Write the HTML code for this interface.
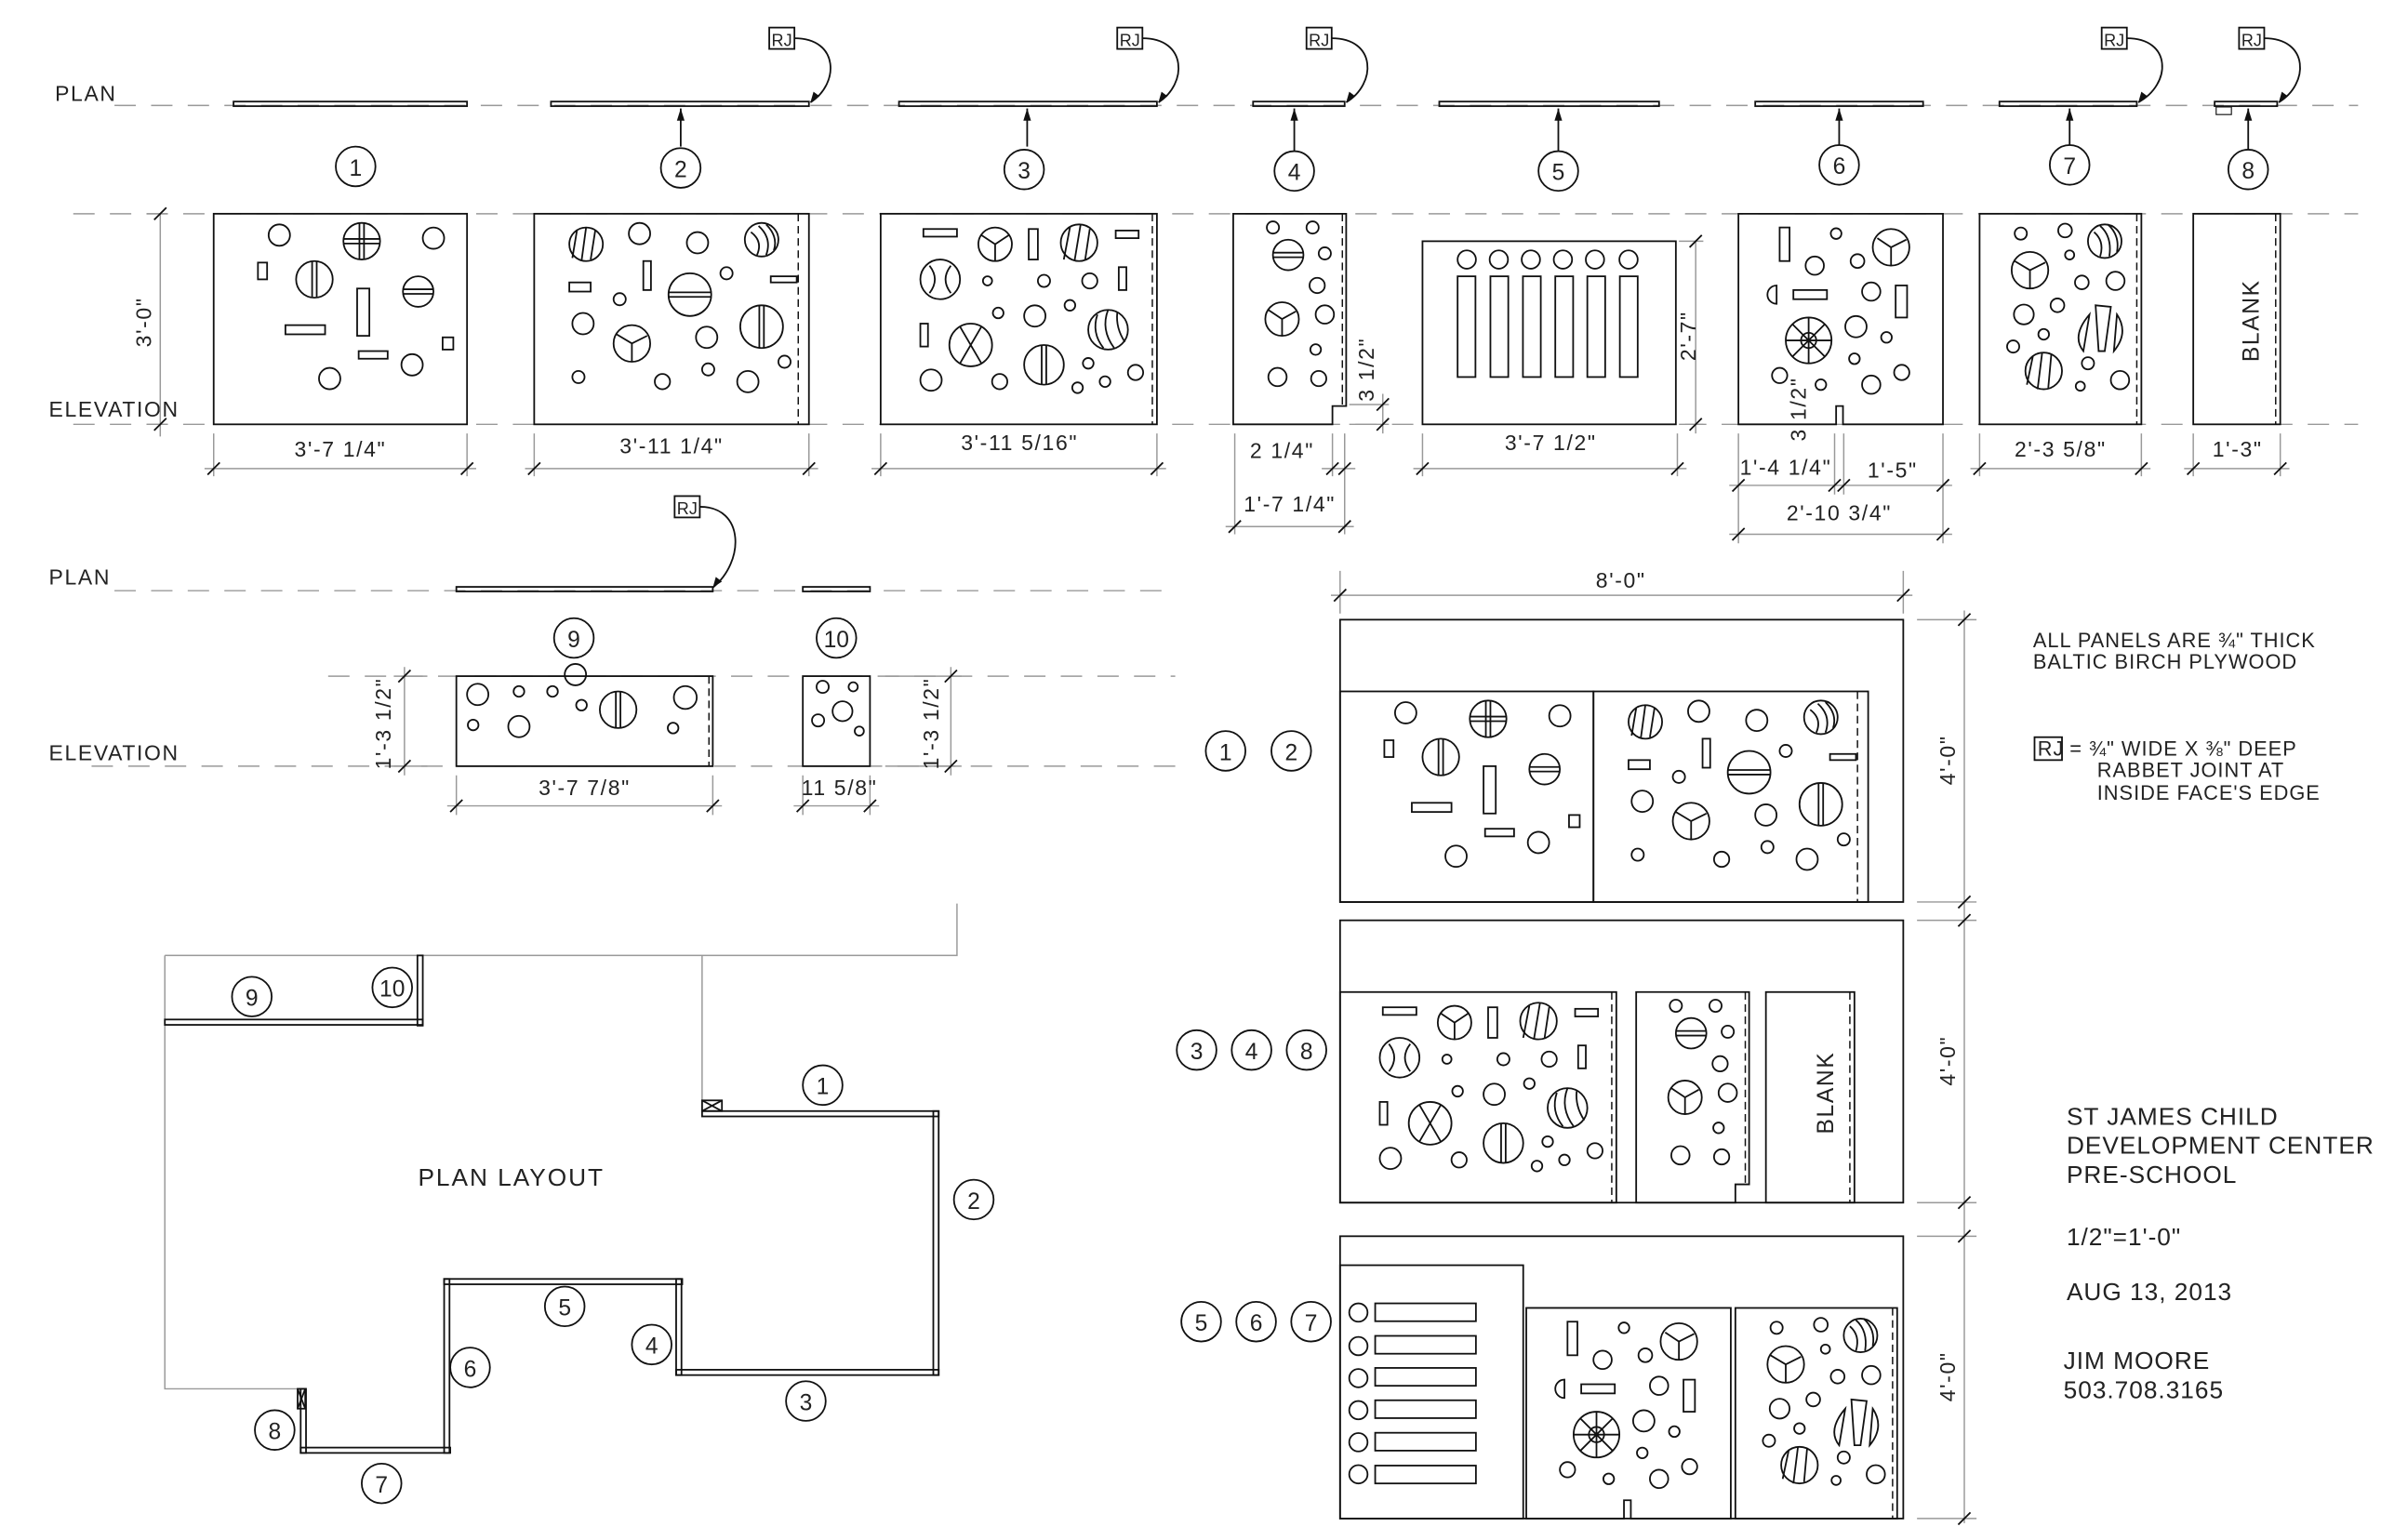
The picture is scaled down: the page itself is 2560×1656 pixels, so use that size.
<!DOCTYPE html>
<html><head><meta charset="utf-8"><style>
html,body{margin:0;padding:0;background:#fff;}
svg{display:block;}
text{font-family:"Liberation Sans",sans-serif;fill:#222;}
.k{fill:none;stroke:#111;stroke-width:1.1;}
.g{fill:none;stroke:#999;stroke-width:0.9;}
.d{fill:none;stroke:#999;stroke-width:0.9;stroke-dasharray:14 10;}
.dp{fill:none;stroke:#111;stroke-width:0.9;stroke-dasharray:5 3;}
.t{font-size:14px;letter-spacing:1px;}
.c{font-size:15px;text-anchor:middle;}
.m{text-anchor:middle;}
.n{font-size:13.3px;letter-spacing:0.6px;}
</style></head><body>
<svg width="2560" height="1656" viewBox="0 0 1560 1009" xmlns="http://www.w3.org/2000/svg">
<defs>
<g id="p1" class="k">
<rect x="0" y="0" width="166" height="138"/>
<circle cx="43" cy="14" r="7"/><circle cx="144" cy="16" r="7"/><circle cx="130" cy="99" r="7"/><circle cx="76" cy="108" r="7"/>
<circle cx="97" cy="18" r="12"/><path d="M85 16.5H109M85 19.5H109M95.5 6V30M98.5 6V30"/>
<circle cx="66" cy="43" r="12"/><path d="M64.5 31.5V54.5M67.5 31.5V54.5"/>
<circle cx="134" cy="51" r="10"/><path d="M124 49.5H144M124 52.5H144"/>
<rect x="29" y="32" width="6" height="11"/><rect x="94" y="49" width="8" height="31"/><rect x="47" y="73" width="26" height="6"/><rect x="150" y="81" width="7" height="8"/><rect x="95" y="90" width="19" height="5"/>
</g>
<g id="p2" class="k">
<rect x="0" y="0" width="180" height="138"/><path class="dp" d="M173 0V138"/>
<circle cx="34" cy="20" r="11"/><path d="M28 11L25 29M34 9L31 31M40 11L37 30"/>
<circle cx="69" cy="13" r="7"/><circle cx="107" cy="19" r="7"/>
<circle cx="149" cy="17" r="11"/><path d="M142 12Q150 18 146 27M147 8Q156 16 152 27M152 7Q160 15 157 24"/>
<circle cx="126" cy="39" r="4"/><rect x="71.5" y="31" width="5" height="19"/><rect x="23" y="45" width="14" height="6"/><circle cx="56" cy="56" r="4"/>
<circle cx="102" cy="53" r="14"/><path d="M88 51.5H116M88 54.5H116"/>
<rect x="155" y="41" width="17" height="4"/><circle cx="32" cy="72" r="7"/>
<circle cx="64" cy="85" r="12"/><path d="M64 85L54 79M64 85L74 80M64 85L64 97"/>
<circle cx="113" cy="81" r="7"/>
<circle cx="149" cy="74" r="14"/><path d="M147.5 60V88M150.5 60V88"/>
<circle cx="164" cy="97" r="4"/><circle cx="29" cy="107" r="4"/><circle cx="84" cy="110" r="5"/><circle cx="114" cy="102" r="4"/><circle cx="140" cy="110" r="7"/>
</g>
<g id="p3" class="k">
<rect x="0" y="0" width="181" height="138"/><path class="dp" d="M178 0V138"/>
<rect x="28" y="10" width="22" height="5"/>
<circle cx="75" cy="20" r="11"/><path d="M75 20L66 14M75 20L84 14M75 20V31"/>
<rect x="97" y="10" width="6" height="20"/>
<circle cx="130" cy="19" r="12"/><path d="M124 9L120 30M131 7L127 31M137 10L134 30"/>
<rect x="154" y="11" width="15" height="5"/>
<circle cx="39" cy="43" r="13"/><path d="M32 34Q39 43 32 52M46 34Q39 43 46 52"/>
<circle cx="70" cy="44" r="3"/><circle cx="107" cy="44" r="4"/><circle cx="137" cy="44" r="5"/>
<rect x="156" y="35" width="5" height="15"/>
<circle cx="77" cy="65" r="3.5"/><circle cx="101" cy="67" r="7"/><circle cx="124" cy="60" r="3.5"/>
<circle cx="149" cy="76" r="13"/><path d="M142 66Q138 78 146 88M149 63Q144 76 153 88M155 65Q154 75 160 84"/>
<rect x="26" y="72" width="5" height="15"/>
<circle cx="59" cy="86" r="14"/><path d="M52 74L66 98M66 74L52 98"/>
<circle cx="107" cy="99" r="13"/><path d="M105.5 86V112M108.5 86V112"/>
<circle cx="33" cy="109" r="7"/><circle cx="78" cy="110" r="5"/><circle cx="136" cy="98" r="3.5"/><circle cx="129" cy="114" r="3.5"/><circle cx="147" cy="110" r="3.5"/><circle cx="167" cy="104" r="5"/>
</g>
<g id="p4" class="k">
<path d="M0 0H74V126H65V138H0Z"/><path class="dp" d="M71.5 0V126"/>
<circle cx="26" cy="9" r="4"/><circle cx="52" cy="9" r="4"/>
<circle cx="36" cy="27" r="10"/><path d="M26 25.5H46M26 28.5H46"/>
<circle cx="60" cy="26" r="4"/><circle cx="55" cy="47" r="5"/>
<circle cx="32" cy="69" r="11"/><path d="M32 69L23 63M32 69L41 64M32 69V80"/>
<circle cx="60" cy="66" r="6"/><circle cx="54" cy="89" r="3.5"/><circle cx="29" cy="107" r="6"/><circle cx="56" cy="108" r="5"/>
</g>
<g id="p6" class="k">
<path d="M0 0H134V138H68.5V126H64V138H0Z"/>
<rect x="27" y="9" width="6.5" height="22"/><circle cx="64" cy="13" r="3.5"/>
<circle cx="100" cy="22" r="12"/><path d="M100 22L91 16M100 22L110 17M100 22V34"/>
<circle cx="50" cy="34" r="6"/><circle cx="78" cy="31" r="4.5"/>
<path d="M25 47A6 6 0 0 0 25 59Z"/>
<rect x="36" y="50" width="22" height="6"/><circle cx="87" cy="51" r="6"/><rect x="103" y="47" width="7.5" height="21"/>
<circle cx="46" cy="83" r="15"/><path d="M46 68V98M31 83H61M35.4 72.4L56.6 93.6M56.6 72.4L35.4 93.6"/><circle cx="46" cy="83" r="5"/>
<circle cx="77" cy="74" r="7"/><circle cx="97" cy="81" r="3.5"/><circle cx="76" cy="95" r="3.5"/><circle cx="27" cy="106" r="5"/><circle cx="54" cy="112" r="3.5"/><circle cx="87" cy="112" r="6"/><circle cx="107" cy="104" r="5"/>
</g>
<g id="p7" class="k">
<rect x="0" y="0" width="106" height="138"/><path class="dp" d="M103 0V138"/>
<circle cx="27" cy="13" r="4"/><circle cx="56" cy="11" r="4.5"/>
<circle cx="82" cy="18" r="11"/><path d="M75 12Q82 18 79 28M79 8Q87 15 85 28M84 7Q92 14 90 25"/>
<circle cx="59" cy="27" r="3"/>
<circle cx="33" cy="37" r="12"/><path d="M33 37L23 31M33 37L43 32M33 37V49"/>
<circle cx="67" cy="45" r="4.5"/><circle cx="89" cy="44" r="6"/><circle cx="51" cy="60" r="4.5"/><circle cx="29" cy="66" r="6.5"/>
<path d="M72 66L68 90Q60 80 72 66ZM76 60L86 61L82 90H78ZM90 66Q98 78 88 90Z"/>
<circle cx="42" cy="79" r="3.5"/><circle cx="22" cy="87" r="4"/>
<circle cx="42" cy="103" r="12"/><path d="M35 93L31 112M41 91L38 115M47 92L45 114"/>
<circle cx="71" cy="98" r="4"/><circle cx="66" cy="113" r="3"/><circle cx="92" cy="109" r="6"/>
</g>
<g id="p5" class="k">
<rect x="0" y="0" width="166" height="120"/>
<circle cx="29" cy="12" r="6"/><circle cx="50" cy="12" r="6"/><circle cx="71" cy="12" r="6"/><circle cx="92" cy="12" r="6"/><circle cx="113" cy="12" r="6"/><circle cx="135" cy="12" r="6"/>
<rect x="23" y="23" width="11.7" height="66"/><rect x="44.5" y="23" width="11.7" height="66"/><rect x="65.8" y="23" width="11.7" height="66"/><rect x="87" y="23" width="11.7" height="66"/><rect x="108" y="23" width="11.7" height="66"/><rect x="129.3" y="23" width="11.7" height="66"/>
</g>
<g id="p9" class="k">
<rect x="0" y="0" width="168" height="59"/><path class="dp" d="M165.5 0V59"/>
<circle cx="14" cy="12" r="7"/><circle cx="41" cy="10" r="3.5"/><circle cx="63" cy="10" r="3.5"/>
<circle cx="78" cy="-1" r="7"/><circle cx="82" cy="19" r="3.5"/><circle cx="41" cy="33" r="7"/><circle cx="11" cy="32" r="3.5"/>
<circle cx="106" cy="22" r="12"/><path d="M104.5 10V34M107.5 10V34"/>
<circle cx="150" cy="14" r="7.5"/><circle cx="142" cy="34" r="3.5"/>
</g>
<g id="p10" class="k">
<rect x="0" y="0" width="44" height="59"/>
<circle cx="13" cy="7" r="4"/><circle cx="33" cy="7" r="3"/><circle cx="26" cy="23" r="6.5"/><circle cx="10" cy="29" r="4"/><circle cx="37" cy="36" r="3"/>
</g>
<path id="tk" d="M-4 4L4 -4"/>
</defs>

<!-- TOP ROW -->
<text x="36" y="66" class="t">PLAN</text>
<path class="d" d="M75 69H1545"/>
<path class="d" d="M48 140H1545"/>
<path class="d" d="M48 278H1545"/>
<text x="32" y="273" class="t" letter-spacing="0.3">ELEVATION</text>

<g class="k">
<rect x="153" y="66.5" width="153" height="3"/>
<rect x="361" y="66.5" width="169" height="3"/>
<rect x="589" y="66.5" width="169" height="3"/>
<rect x="821" y="66.5" width="60" height="3"/>
<rect x="943" y="66.5" width="144" height="3"/>
<rect x="1150" y="66.5" width="110" height="3"/>
<rect x="1310" y="66.5" width="90" height="3"/>
<rect x="1451" y="66.5" width="41" height="3"/>
<rect x="1452" y="70" width="10" height="5" stroke-width="0.7"/>
</g>
<g class="k" stroke-width="0.8">
<path d="M446 96V71M673 96V71M848 99V71M1021 99V71M1205 95V71M1356 95V71M1473 98V71"/>
</g>
<g fill="#111">
<path d="M446 71l-2.5 8h5z"/><path d="M673 71l-2.5 8h5z"/><path d="M848 71l-2.5 8h5z"/><path d="M1021 71l-2.5 8h5z"/><path d="M1205 71l-2.5 8h5z"/><path d="M1356 71l-2.5 8h5z"/><path d="M1473 71l-2.5 8h5z"/>
</g>
<g class="k">
<rect x="504" y="18" width="16.5" height="14"/><path d="M520.5 25C550 25 550 55 531 67"/>
<rect x="732" y="18" width="16.5" height="14"/><path d="M748.5 25C778 25 778 55 759 67"/>
<rect x="856" y="18" width="16.5" height="14"/><path d="M872.5 25C902 25 902 55 882 67"/>
<rect x="1377" y="18" width="16.5" height="14"/><path d="M1393.5 25C1423 25 1423 55 1401 67"/>
<rect x="1467" y="18" width="16.5" height="14"/><path d="M1483.5 25C1513 25 1513 55 1493 67"/>
<rect x="442" y="325" width="16.5" height="14"/><path d="M458.5 332C488 332 488 368 467 385"/>
</g>
<g fill="#111"><path d="M531 67l2 -7l4 3z"/><path d="M759 67l2 -7l4 3z"/><path d="M882 67l2 -7l4 3z"/><path d="M1401 67l2 -7l4 3z"/><path d="M1493 67l2 -7l4 3z"/><path d="M467 385l2 -7l4 3z"/></g>
<g font-size="11"><text x="505.5" y="30">RJ</text><text x="733.5" y="30">RJ</text><text x="857.5" y="30">RJ</text><text x="1378.5" y="30">RJ</text><text x="1468.5" y="30">RJ</text><text x="443.5" y="337">RJ</text></g>

<g class="k">
<circle cx="233" cy="109" r="13"/><circle cx="446" cy="110" r="13"/><circle cx="671" cy="111" r="13"/><circle cx="848" cy="112" r="13"/><circle cx="1021" cy="112" r="13"/><circle cx="1205" cy="108" r="13"/><circle cx="1356" cy="108" r="13"/><circle cx="1473" cy="111" r="13"/>
</g>
<g class="c"><text x="233" y="115">1</text><text x="446" y="116">2</text><text x="671" y="117">3</text><text x="848" y="118">4</text><text x="1021" y="118">5</text><text x="1205" y="114">6</text><text x="1356" y="114">7</text><text x="1473" y="117">8</text></g>

<use href="#p1" x="140" y="140"/>
<use href="#p2" x="350" y="140"/>
<use href="#p3" x="577" y="140"/>
<use href="#p4" x="808" y="140"/>
<use href="#p5" x="932" y="158"/>
<use href="#p6" x="1139" y="140"/>
<use href="#p7" x="1297" y="140"/>
<g class="k"><rect x="1437" y="140" width="57" height="138"/><path class="dp" d="M1491 140V278"/></g>
<text transform="translate(1480,210) rotate(-90)" class="m" font-size="15" letter-spacing="1">BLANK</text>

<g class="g">
<path d="M96 140H110M96 278H110M105 140V286"/>
<path d="M140 284V312M306 284V312M134 307H312"/>
<path d="M350 284V312M530 284V312M344 307H536"/>
<path d="M577 284V312M758 284V312M571 307H764"/>
<path d="M873 284V312M881 284V350M809 284V350M866 307H888M803 345H887"/>
<path d="M884 265H910M884 278H910M906 258V284"/>
<path d="M932 284V312M1099 284V312M926 307H1105"/>
<path d="M1100 158H1116M1100 278H1116M1111 158V284"/>
<path d="M1139 284V356M1202 284V324M1208 284V324M1273 284V356M1133 318H1279M1133 350H1279"/>
<path d="M1297 284V312M1403 284V312M1291 307H1409"/>
<path d="M1437 284V312M1494 284V312M1431 307H1500"/>
</g>
<g class="k" stroke-width="0.9">
<use href="#tk" x="105" y="140"/><use href="#tk" x="105" y="278"/>
<use href="#tk" x="140" y="307"/><use href="#tk" x="306" y="307"/>
<use href="#tk" x="350" y="307"/><use href="#tk" x="530" y="307"/>
<use href="#tk" x="577" y="307"/><use href="#tk" x="758" y="307"/>
<use href="#tk" x="873" y="307"/><use href="#tk" x="881" y="307"/>
<use href="#tk" x="809" y="345"/><use href="#tk" x="881" y="345"/>
<use href="#tk" x="906" y="265"/><use href="#tk" x="906" y="278"/>
<use href="#tk" x="932" y="307"/><use href="#tk" x="1099" y="307"/>
<use href="#tk" x="1111" y="158"/><use href="#tk" x="1111" y="278"/>
<use href="#tk" x="1139" y="318"/><use href="#tk" x="1202" y="318"/><use href="#tk" x="1208" y="318"/><use href="#tk" x="1273" y="318"/>
<use href="#tk" x="1139" y="350"/><use href="#tk" x="1273" y="350"/>
<use href="#tk" x="1297" y="307"/><use href="#tk" x="1403" y="307"/>
<use href="#tk" x="1437" y="307"/><use href="#tk" x="1494" y="307"/>
</g>
<g class="t m">
<text transform="translate(99,211) rotate(-90)">3'-0"</text>
<text x="223" y="299">3'-7 1/4"</text>
<text x="440" y="297">3'-11 1/4"</text>
<text x="668" y="295">3'-11 5/16"</text>
<text x="840" y="300">2 1/4"</text>
<text x="845" y="335">1'-7 1/4"</text>
<text transform="translate(900,242) rotate(-90)">3 1/2"</text>
<text x="1016" y="295">3'-7 1/2"</text>
<text transform="translate(1111,220) rotate(-90)">2'-7"</text>
<text transform="translate(1183,268) rotate(-90)">3 1/2"</text>
<text x="1170" y="311">1'-4 1/4"</text>
<text x="1240" y="313">1'-5"</text>
<text x="1205" y="341">2'-10 3/4"</text>
<text x="1350" y="299">2'-3 5/8"</text>
<text x="1466" y="299">1'-3"</text>
</g>

<!-- SECOND ROW -->
<text x="32" y="383" class="t">PLAN</text>
<path class="d" d="M75 387H770"/>
<path class="d" d="M215 443H770"/>
<path class="d" d="M60 502H770"/>
<text x="32" y="498" class="t" letter-spacing="0.3">ELEVATION</text>
<g class="k"><rect x="299" y="384.5" width="168" height="3"/><rect x="526" y="384.5" width="44" height="3"/></g>
<g class="k"><circle cx="376" cy="418" r="13"/><circle cx="548" cy="418" r="13"/></g>
<g class="c"><text x="376" y="424">9</text><text x="548" y="424">10</text></g>
<use href="#p9" x="299" y="443"/>
<use href="#p10" x="526" y="443"/>
<g class="g">
<path d="M258 443H280M258 502H280M265 437V508"/>
<path d="M580 443H630M580 502H630M623 437V508"/>
<path d="M299 508V534M467 508V534M293 528H473"/>
<path d="M526 508V534M570 508V534M520 528H576"/>
</g>
<g class="k" stroke-width="0.9">
<use href="#tk" x="265" y="443"/><use href="#tk" x="265" y="502"/><use href="#tk" x="623" y="443"/><use href="#tk" x="623" y="502"/>
<use href="#tk" x="299" y="528"/><use href="#tk" x="467" y="528"/><use href="#tk" x="526" y="528"/><use href="#tk" x="570" y="528"/>
</g>
<g class="t m">
<text transform="translate(256,474) rotate(-90)">1'-3 1/2"</text>
<text transform="translate(615,474) rotate(-90)">1'-3 1/2"</text>
<text x="383" y="521">3'-7 7/8"</text>
<text x="550" y="521">11 5/8"</text>
</g>

<!-- PLAN LAYOUT -->
<g class="g" stroke="#888">
<path d="M108 626H627V592M108 626V910H197M460 626V728"/>
</g>
<g class="k" stroke-width="0.9">
<rect x="108" y="668" width="169" height="3.5"/>
<rect x="273.5" y="626" width="3.5" height="46"/>
<rect x="460" y="728" width="155" height="3.5"/>
<rect x="611.5" y="728" width="3.5" height="173"/>
<rect x="443" y="897.5" width="172" height="3.5"/>
<rect x="443" y="838" width="3.5" height="63"/>
<rect x="291" y="838" width="156" height="3.5"/>
<rect x="291" y="838" width="3.5" height="114"/>
<rect x="197" y="948.5" width="98" height="3.5"/>
<rect x="197" y="910" width="3.5" height="42"/>
<rect x="460" y="721" width="13" height="7"/><path d="M460 721L473 728M473 721L460 728"/>
<rect x="195" y="910" width="5" height="13"/><path d="M195 910L200 923M200 910L195 923"/>
</g>
<g class="k">
<circle cx="165" cy="653" r="13"/><circle cx="257" cy="647" r="13"/><circle cx="539" cy="711" r="13"/><circle cx="638" cy="786" r="13"/><circle cx="528" cy="918" r="13"/><circle cx="427" cy="881" r="13"/><circle cx="370" cy="856" r="13"/><circle cx="308" cy="896" r="13"/><circle cx="250" cy="972" r="13"/><circle cx="180" cy="937" r="13"/>
</g>
<g class="c">
<text x="165" y="659">9</text><text x="257" y="653">10</text><text x="539" y="717">1</text><text x="638" y="792">2</text><text x="528" y="924">3</text><text x="427" y="887">4</text><text x="370" y="862">5</text><text x="308" y="902">6</text><text x="250" y="978">7</text><text x="180" y="943">8</text>
</g>
<text x="335" y="777" class="m" font-size="16" letter-spacing="1.2">PLAN LAYOUT</text>

<!-- ASSEMBLIES -->
<g class="g">
<path d="M878 374V402M1247 374V402M872 390H1253"/>
<path d="M1256 406H1295M1256 591H1295M1256 603H1295M1256 788H1295M1256 810H1295M1256 995H1295M1287 400V998"/>
</g>
<g class="k" stroke-width="0.9">
<use href="#tk" x="878" y="390"/><use href="#tk" x="1247" y="390"/>
<use href="#tk" x="1287" y="406"/><use href="#tk" x="1287" y="591"/><use href="#tk" x="1287" y="603"/><use href="#tk" x="1287" y="788"/><use href="#tk" x="1287" y="810"/><use href="#tk" x="1287" y="995"/>
</g>
<g class="t m">
<text x="1062" y="385">8'-0"</text>
<text transform="translate(1281,498) rotate(-90)">4'-0"</text>
<text transform="translate(1281,695) rotate(-90)">4'-0"</text>
<text transform="translate(1281,902) rotate(-90)">4'-0"</text>
</g>
<g class="k"><rect x="878" y="406" width="369" height="185"/><rect x="878" y="603" width="369" height="185"/><rect x="878" y="810" width="369" height="185"/></g>
<use href="#p1" x="878" y="453"/>
<use href="#p2" x="1044" y="453"/>
<use href="#p3" x="878" y="650"/>
<use href="#p4" x="1072" y="650"/>
<g class="k"><rect x="1157" y="650" width="58" height="138"/><path class="dp" d="M1212 650V788"/></g>
<text transform="translate(1201,716) rotate(-90)" class="m" font-size="15" letter-spacing="1">BLANK</text>
<use href="#p5" transform="translate(878,995) rotate(-90)"/>
<use href="#p6" x="1000" y="857"/>
<use href="#p7" x="1137" y="857"/>
<g class="k">
<circle cx="803" cy="492" r="13"/><circle cx="846" cy="492" r="13"/>
<circle cx="784" cy="688" r="13"/><circle cx="820" cy="688" r="13"/><circle cx="856" cy="688" r="13"/>
<circle cx="787" cy="866" r="13"/><circle cx="823" cy="866" r="13"/><circle cx="859" cy="866" r="13"/>
</g>
<g class="c">
<text x="803" y="498">1</text><text x="846" y="498">2</text>
<text x="784" y="694">3</text><text x="820" y="694">4</text><text x="856" y="694">8</text>
<text x="787" y="872">5</text><text x="823" y="872">6</text><text x="859" y="872">7</text>
</g>

<!-- NOTES -->
<g class="n">
<text x="1332" y="424">ALL PANELS ARE ¾" THICK</text>
<text x="1332" y="438">BALTIC BIRCH PLYWOOD</text>
<rect x="1333" y="483" width="18" height="15" class="k"/>
<text x="1335" y="495">RJ</text>
<text x="1356" y="495">= ¾" WIDE X ⅜" DEEP</text>
<text x="1374" y="509">RABBET JOINT AT</text>
<text x="1374" y="524">INSIDE FACE'S EDGE</text>
</g>
<g font-size="16" letter-spacing="0.6">
<text x="1354" y="737">ST JAMES CHILD</text>
<text x="1354" y="756">DEVELOPMENT CENTER</text>
<text x="1354" y="775">PRE-SCHOOL</text>
<text x="1354" y="816">1/2"=1'-0"</text>
<text x="1354" y="852">AUG 13, 2013</text>
<text x="1352" y="897">JIM MOORE</text>
<text x="1352" y="916">503.708.3165</text>
</g>
</svg>
</body></html>
